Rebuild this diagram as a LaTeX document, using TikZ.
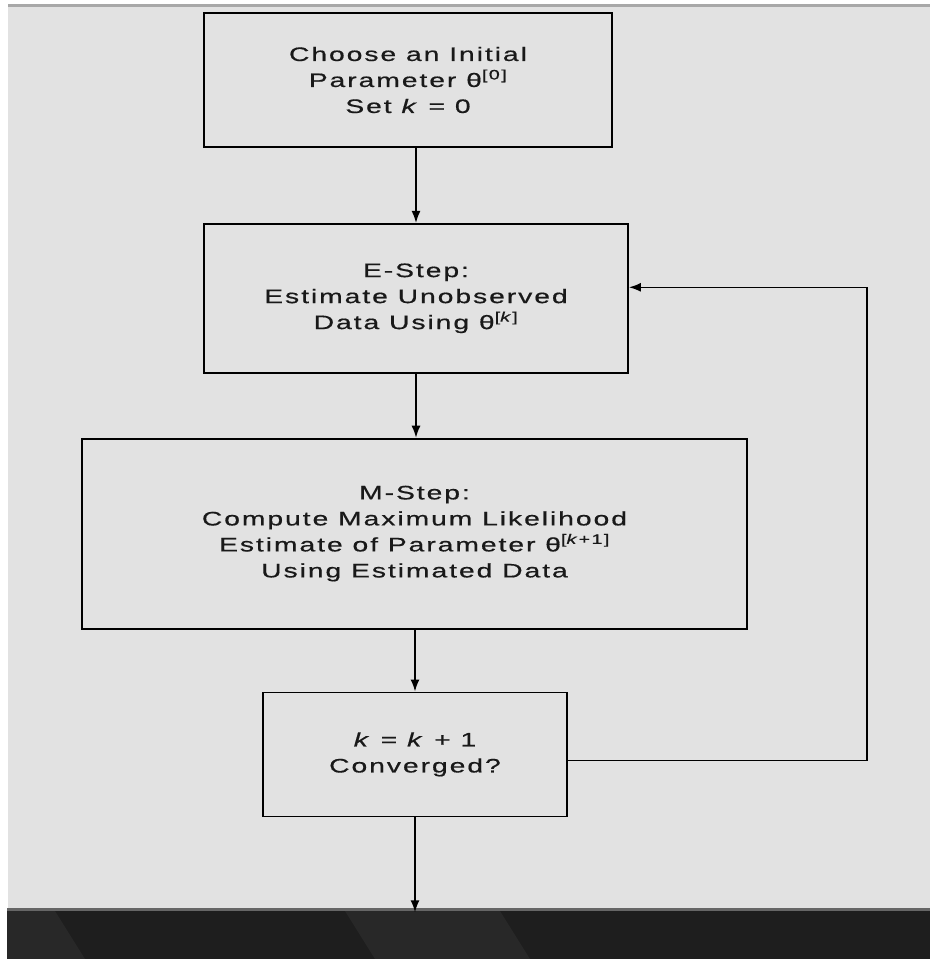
\documentclass[tikz,border=0pt]{standalone}
\usepackage{fontspec}
\setmainfont{Liberation Sans}[FakeStretch=1.45, LetterSpace=10, FakeBold=0.6]
\usetikzlibrary{positioning, arrows.meta}

\definecolor{scan}{RGB}{226,226,226}
\definecolor{rim}{RGB}{168,168,168}
\definecolor{bar}{RGB}{30,30,30}
\definecolor{band}{RGB}{40,40,40}

\begin{document}
\begin{tikzpicture}[x=1pt, y=1pt,
            box/.style={draw=black, line width=1.8pt, rectangle, inner sep=0pt, align=center, text=black!90, font=\fontsize{19.5}{26}\selectfont},
            edge/.style={line width=1.5pt, -{Latex[length=12pt, width=9pt]}}
        ]

        % Hintergrund
        \useasboundingbox (0,0) rectangle (930,-959);
        \fill[scan] (8,-4) rectangle (930,-908);
        \fill[rim] (8,-4) rectangle (930,-7);
        \fill[bar] (7,-908) rectangle (930,-959);
        \fill[band] (7,-911) -- (55,-911) -- (85,-959) -- (7,-959) -- cycle;
        \fill[band] (345,-911) -- (500,-911) -- (530,-959) -- (375,-959) -- cycle;
        \fill[black!60] (7,-908) rectangle (930,-910.5);

        % Knoten
        \node[box, minimum width=408pt, minimum height=134pt] (init) at (408,-80) {Choose an Initial\\Parameter θ\textsuperscript{[0]}\\Set \textit{k} = 0};
        \node[box, minimum width=424pt, minimum height=149pt, below=75pt of init, xshift=8pt] (estep) {E-Step:\\Estimate Unobserved\\Data Using θ\textsuperscript{[\textit{k}]}};
        \node[box, minimum width=665pt, minimum height=190pt, below=64pt of estep, xshift=-1.5pt] (mstep) {M-Step:\\Compute Maximum Likelihood\\Estimate of Parameter θ\textsuperscript{[\textit{k}+1]}\\Using Estimated Data};
        \node[box, minimum width=304pt, minimum height=124pt, below=62pt of mstep, xshift=0.5pt] (conv) {\textit{k} = \textit{k} + 1\\Converged?};
        \coordinate[below=95pt of conv] (exit);

        % Kanten
        \draw[edge] (init.south -| estep.north) -- (estep.north);
        \draw[edge] (estep.south) -- (estep.south |- mstep.north);
        \draw[edge] (mstep.south -| conv.north) -- (conv.north);
        \draw[edge] (conv.south) -- (exit);
        \draw[edge] ([yshift=-6pt]conv.east) -| ([xshift=119pt]mstep.east) |- ([yshift=11pt]estep.east);

    \end{tikzpicture}
\end{document}
